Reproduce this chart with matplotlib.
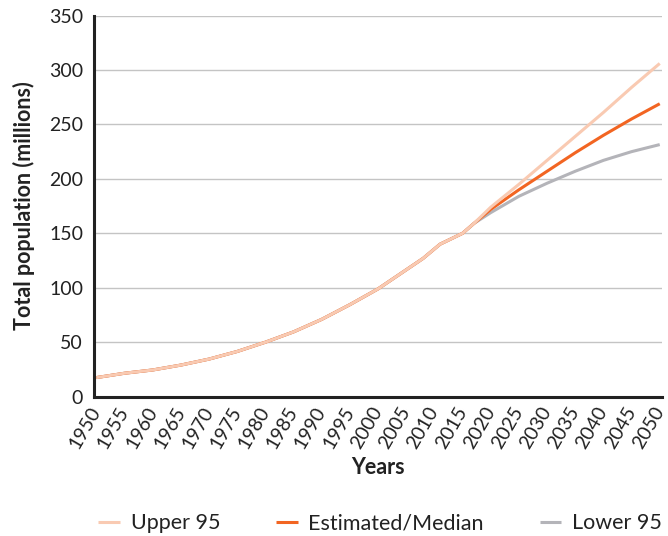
import matplotlib
matplotlib.use("Agg")
import matplotlib.pyplot as plt
import matplotlib.transforms as mtransforms

# shared history (all three series coincide up to ~2017)
hist_years = [1950, 1955, 1960, 1965, 1970, 1975, 1980, 1985, 1990, 1995,
              2000, 2005, 2008, 2011, 2015, 2017]
hist_pop = [17.5, 21.5, 24.5, 29, 34.5, 41.5, 50, 59.5, 71, 84.5,
            99, 116.5, 127, 140, 150, 159]

proj_years = [2020, 2025, 2030, 2035, 2040, 2045, 2050]
upper_95 = [174, 195, 217, 239, 261, 284, 306]
median = [172, 190, 207, 224, 240, 255, 269]
lower_95 = [169, 184, 196, 207, 217, 225, 231.5]

C_UPPER = "#F9CAB2"
C_MED = "#F26522"
C_LOW = "#B4B4B9"

plt.rcParams["font.family"] = ["Lato", "DejaVu Sans"]

fig = plt.figure(figsize=(6.68, 5.36), dpi=100)
ax = fig.add_axes([0.141, 0.26, 0.85, 0.711])

yrs = hist_years + proj_years
ax.plot(yrs, hist_pop + lower_95, color=C_LOW, lw=2.2, zorder=2,
        label="Lower 95", solid_capstyle="butt")
ax.plot(yrs, hist_pop + median, color=C_MED, lw=2.2, zorder=3,
        label="Estimated/Median", solid_capstyle="butt")
ax.plot(yrs, hist_pop + upper_95, color=C_UPPER, lw=2.2, zorder=4,
        label="Upper 95", solid_capstyle="butt")

ax.set_xlim(1949.6, 2050.4)
ax.set_ylim(0, 350)
ax.set_yticks(range(0, 351, 50))
ax.set_xticks(range(1950, 2051, 5))
ax.set_xticklabels([str(y) for y in range(1950, 2051, 5)], rotation=60,
                   ha="right", va="center", rotation_mode="anchor")
# nudge the rotated year labels a little left so 2050 stays inside
shift = mtransforms.ScaledTranslation(-5 / 100, 0, fig.dpi_scale_trans)
for lab in ax.get_xticklabels():
    lab.set_transform(lab.get_transform() + shift)
ax.tick_params(axis="both", length=0, labelsize=14, colors="#222222")
ax.tick_params(axis="y", pad=8)
ax.tick_params(axis="x", pad=8)

ax.grid(axis="y", color="#C4C4C4", lw=1.0, zorder=0)
ax.set_axisbelow(True)
for side in ("top", "right"):
    ax.spines[side].set_visible(False)
for side in ("left", "bottom"):
    ax.spines[side].set_color("#222222")
    ax.spines[side].set_linewidth(2.2)

ax.set_xlabel("Years", fontsize=15.5, fontweight="bold", color="#222222",
              labelpad=4)
ax.set_ylabel("Total population (millions)", fontsize=15.5, fontweight="bold",
              color="#222222", labelpad=10)

h, l = ax.get_legend_handles_labels()
order = [2, 1, 0]
fig.legend([h[i] for i in order], [l[i] for i in order], loc="center",
           bbox_to_anchor=(0.569, 0.024), ncol=3, frameon=False,
           fontsize=15.5, handlelength=1.0, columnspacing=2.6,
           handletextpad=0.5, labelcolor="#222222")

fig.savefig("out.png", dpi=100)
